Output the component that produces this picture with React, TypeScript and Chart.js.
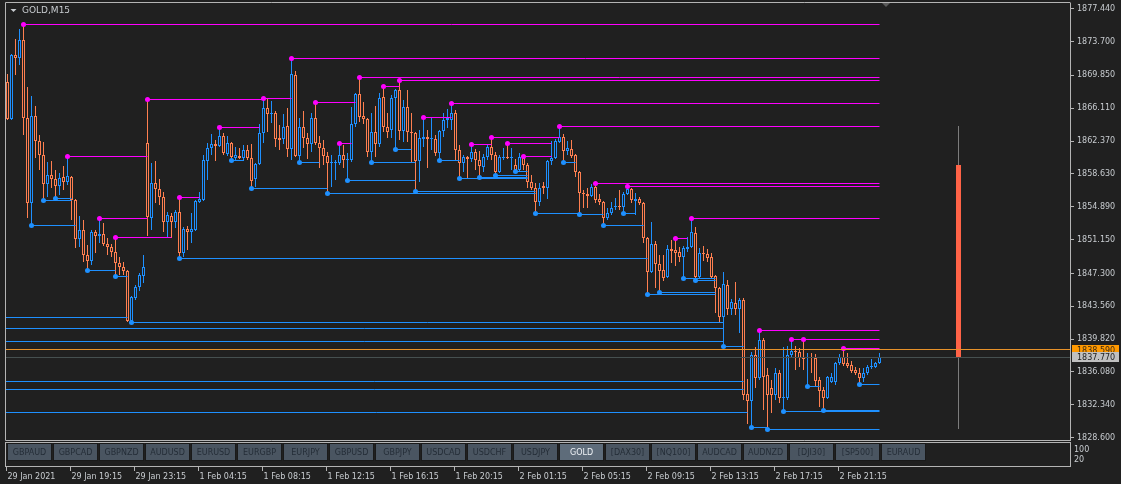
import React, { useEffect, useRef } from "react";
import { Chart, registerables } from "chart.js";

Chart.register(...registerables);

// ---------- data (GOLD, M15) ----------
const OPEN = [
  1869.05, 1864.85, 1872.12, 1871.82, 1873.83, 1864.96, 1855.29, 1865.19, 1862.34, 1860.75,
  1857.45, 1858.47, 1858.02, 1857.22, 1858.25, 1857.68, 1858.25, 1855.63, 1851.19, 1852.22,
  1849.38, 1848.70, 1851.99, 1851.54, 1851.76, 1850.63, 1850.29, 1849.72, 1848.47, 1848.01,
  1847.56, 1841.87, 1844.49, 1845.74, 1846.99, 1862.11, 1853.58, 1857.56, 1856.88, 1855.97,
  1853.13, 1853.81, 1853.13, 1854.27, 1849.61, 1852.33, 1851.99, 1852.22, 1855.40, 1855.63,
  1860.07, 1861.55, 1862.00, 1861.77, 1862.91, 1860.86, 1862.11, 1860.41, 1860.64, 1860.41,
  1861.32, 1860.41, 1858.02, 1859.73, 1863.25, 1866.10, 1865.41, 1865.53, 1862.68, 1862.57,
  1864.05, 1861.43, 1869.85, 1860.64, 1863.93, 1862.68, 1862.00, 1864.96, 1862.11, 1861.55,
  1860.64, 1859.84, 1859.84, 1859.84, 1860.75, 1860.18, 1860.18, 1864.28, 1867.69, 1865.19,
  1864.85, 1861.09, 1863.37, 1862.00, 1867.35, 1863.93, 1863.59, 1867.23, 1868.14, 1863.48,
  1866.21, 1863.37, 1863.25, 1860.07, 1862.57, 1862.80, 1862.57, 1862.57, 1860.98, 1863.48,
  1864.73, 1864.73, 1865.53, 1861.32, 1859.84, 1860.52, 1860.30, 1861.09, 1860.18, 1859.38,
  1860.52, 1861.66, 1860.75, 1858.81, 1860.41, 1860.52, 1860.41, 1859.61, 1859.04, 1860.52,
  1859.61, 1857.68, 1856.99, 1855.40, 1857.22, 1856.99, 1860.07, 1860.41, 1862.23, 1862.80,
  1861.20, 1861.43, 1860.75, 1858.81, 1856.43, 1856.31, 1856.09, 1857.11, 1855.74, 1855.40,
  1853.58, 1854.15, 1854.83, 1854.95, 1854.83, 1856.31, 1856.88, 1855.52, 1855.74, 1855.29,
  1851.31, 1847.44, 1850.63, 1848.36, 1847.67, 1846.87, 1850.06, 1849.95, 1849.72, 1849.15,
  1850.06, 1850.29, 1851.88, 1846.87, 1849.61, 1849.49, 1849.15, 1846.99, 1845.62, 1842.32,
  1845.96, 1843.23, 1843.92, 1843.23, 1844.26, 1833.57, 1832.77, 1838.00, 1835.39, 1839.71,
  1835.73, 1834.25, 1833.45, 1835.96, 1833.11, 1833.11, 1838.00, 1838.45, 1838.34, 1837.66,
  1837.66, 1837.77, 1837.66, 1835.16, 1834.02, 1833.11, 1834.93, 1834.93, 1837.09, 1837.77,
  1837.09, 1836.87, 1836.30, 1835.96, 1835.39, 1835.96, 1836.64, 1836.64, 1837.09,
];
const HIGH = [
  1869.96, 1872.24, 1873.94, 1875.08, 1875.65, 1868.48, 1867.46, 1866.33, 1863.02, 1862.23,
  1859.95, 1860.07, 1859.04, 1858.70, 1859.50, 1860.64, 1858.36, 1855.74, 1853.81, 1853.36,
  1850.51, 1852.22, 1852.22, 1853.58, 1853.02, 1851.31, 1850.63, 1851.42, 1849.15, 1848.58,
  1847.67, 1844.71, 1845.97, 1847.33, 1849.38, 1867.12, 1859.84, 1860.07, 1858.02, 1856.54,
  1854.27, 1854.15, 1854.49, 1855.97, 1852.56, 1852.67, 1854.15, 1855.63, 1856.54, 1860.75,
  1862.11, 1863.14, 1862.46, 1863.93, 1863.25, 1862.91, 1862.23, 1861.66, 1861.55, 1861.89,
  1861.89, 1862.00, 1859.84, 1864.28, 1867.23, 1867.12, 1866.89, 1865.76, 1864.16, 1865.41,
  1866.10, 1871.78, 1870.30, 1864.96, 1865.76, 1863.25, 1865.53, 1866.78, 1862.91, 1862.46,
  1861.09, 1860.75, 1860.18, 1862.11, 1861.89, 1860.98, 1866.21, 1867.80, 1869.62, 1866.78,
  1864.96, 1865.53, 1866.33, 1867.80, 1868.60, 1865.53, 1867.57, 1868.26, 1869.28, 1867.01,
  1868.14, 1865.53, 1863.37, 1863.59, 1865.07, 1863.59, 1864.96, 1863.02, 1863.59, 1865.53,
  1865.98, 1866.67, 1865.87, 1861.89, 1860.75, 1860.64, 1862.00, 1861.43, 1861.20, 1860.86,
  1861.89, 1862.80, 1861.09, 1860.75, 1861.55, 1862.11, 1861.55, 1860.30, 1860.98, 1860.64,
  1859.84, 1858.47, 1857.56, 1857.56, 1857.68, 1860.18, 1862.34, 1862.57, 1864.05, 1863.14,
  1862.34, 1862.46, 1860.86, 1858.93, 1856.77, 1856.99, 1857.45, 1857.56, 1856.31, 1855.52,
  1854.72, 1855.40, 1855.86, 1856.77, 1856.54, 1857.22, 1856.99, 1856.43, 1855.97, 1855.40,
  1851.42, 1853.13, 1850.97, 1849.38, 1849.38, 1850.51, 1851.08, 1851.31, 1850.29, 1850.40,
  1851.42, 1853.58, 1852.56, 1850.17, 1850.40, 1850.06, 1849.61, 1847.10, 1845.74, 1847.44,
  1846.53, 1844.37, 1846.31, 1844.49, 1844.49, 1835.27, 1838.34, 1838.91, 1840.85, 1839.94,
  1836.52, 1835.16, 1836.52, 1836.30, 1838.91, 1839.03, 1839.82, 1839.03, 1838.80, 1839.82,
  1838.23, 1838.23, 1838.11, 1835.50, 1834.36, 1835.61, 1835.96, 1837.21, 1838.11, 1838.80,
  1838.23, 1837.32, 1836.64, 1836.52, 1836.52, 1836.87, 1837.55, 1837.21, 1838.23,
];
const LOW = [
  1864.73, 1864.73, 1869.85, 1870.99, 1863.02, 1853.58, 1852.79, 1860.41, 1859.04, 1855.63,
  1855.97, 1856.99, 1855.86, 1856.20, 1856.77, 1857.34, 1853.36, 1850.17, 1850.29, 1848.58,
  1847.67, 1848.24, 1849.61, 1850.74, 1850.40, 1849.38, 1849.15, 1846.99, 1847.10, 1847.10,
  1841.81, 1841.70, 1844.26, 1845.28, 1846.19, 1851.54, 1852.22, 1855.29, 1855.06, 1851.99,
  1851.42, 1851.31, 1852.45, 1849.04, 1849.15, 1849.95, 1850.74, 1852.11, 1855.29, 1855.52,
  1857.91, 1860.75, 1860.07, 1861.66, 1860.75, 1860.64, 1860.18, 1860.24, 1860.30, 1860.07,
  1860.18, 1856.99, 1857.11, 1859.61, 1862.11, 1863.37, 1864.39, 1861.66, 1861.32, 1862.00,
  1860.52, 1860.18, 1860.52, 1859.95, 1861.55, 1860.30, 1861.09, 1861.89, 1859.27, 1859.61,
  1856.43, 1857.11, 1857.91, 1859.61, 1859.27, 1857.91, 1859.95, 1863.93, 1864.50, 1864.28,
  1860.52, 1859.95, 1860.52, 1861.66, 1863.37, 1862.68, 1862.68, 1861.43, 1862.46, 1862.23,
  1862.23, 1859.95, 1856.65, 1857.68, 1861.66, 1859.27, 1861.32, 1860.64, 1860.18, 1862.80,
  1863.82, 1863.59, 1860.18, 1858.13, 1858.81, 1858.19, 1859.95, 1859.04, 1858.25, 1858.81,
  1860.18, 1860.18, 1858.47, 1858.70, 1860.18, 1860.30, 1859.04, 1858.93, 1858.81, 1859.04,
  1856.99, 1856.77, 1854.15, 1854.95, 1856.31, 1855.74, 1859.61, 1860.30, 1862.11, 1859.95,
  1860.75, 1860.41, 1858.25, 1854.04, 1854.72, 1854.72, 1855.97, 1855.29, 1855.06, 1852.79,
  1853.36, 1853.93, 1854.49, 1854.49, 1854.15, 1856.20, 1855.29, 1853.93, 1855.06, 1850.74,
  1844.94, 1847.33, 1845.62, 1845.17, 1846.42, 1846.76, 1848.47, 1848.13, 1848.58, 1846.76,
  1849.72, 1850.17, 1846.53, 1846.76, 1848.70, 1848.58, 1846.82, 1842.78, 1841.76, 1839.03,
  1842.55, 1842.55, 1842.55, 1840.50, 1832.88, 1830.15, 1829.81, 1834.25, 1835.16, 1831.75,
  1829.59, 1831.40, 1832.88, 1832.54, 1831.63, 1832.88, 1837.77, 1836.30, 1836.64, 1836.30,
  1834.48, 1835.96, 1834.36, 1832.09, 1831.75, 1833.00, 1834.82, 1834.59, 1836.87, 1836.75,
  1836.52, 1835.96, 1835.73, 1834.70, 1834.93, 1835.73, 1836.41, 1836.52, 1837.04,
];
const CLOSE = [
  1864.85, 1872.12, 1871.82, 1873.83, 1864.96, 1855.29, 1865.19, 1862.34, 1860.75, 1857.45,
  1858.47, 1858.02, 1857.22, 1858.13, 1857.68, 1858.36, 1855.63, 1851.19, 1852.22, 1849.38,
  1848.70, 1851.99, 1851.54, 1851.76, 1850.63, 1850.29, 1849.72, 1848.47, 1848.01, 1847.56,
  1841.87, 1844.60, 1845.74, 1847.10, 1848.01, 1853.70, 1857.56, 1856.88, 1855.97, 1853.13,
  1853.93, 1853.13, 1854.27, 1849.61, 1852.33, 1851.99, 1852.33, 1855.52, 1855.74, 1860.18,
  1861.55, 1862.00, 1861.77, 1862.91, 1860.98, 1862.11, 1860.52, 1860.75, 1860.41, 1861.32,
  1860.41, 1857.79, 1859.73, 1863.25, 1866.10, 1865.41, 1865.53, 1862.57, 1862.46, 1863.93,
  1861.43, 1869.96, 1860.64, 1863.93, 1862.68, 1862.00, 1864.96, 1862.11, 1861.55, 1860.64,
  1859.84, 1859.95, 1859.95, 1860.75, 1860.18, 1860.30, 1864.28, 1867.69, 1865.07, 1864.85,
  1861.09, 1863.37, 1862.00, 1867.23, 1863.93, 1863.37, 1867.23, 1868.14, 1863.48, 1866.21,
  1863.37, 1863.25, 1860.07, 1862.68, 1862.80, 1862.57, 1862.68, 1860.98, 1863.48, 1864.73,
  1864.96, 1865.53, 1861.32, 1859.84, 1860.52, 1860.30, 1861.09, 1860.18, 1859.50, 1860.52,
  1861.66, 1860.75, 1858.81, 1860.52, 1860.52, 1860.41, 1860.52, 1859.04, 1860.52, 1859.61,
  1857.68, 1856.99, 1855.40, 1856.99, 1856.99, 1860.07, 1860.41, 1862.34, 1862.80, 1861.20,
  1861.55, 1860.64, 1858.81, 1856.43, 1856.31, 1856.09, 1857.11, 1855.63, 1855.40, 1853.58,
  1854.15, 1854.72, 1854.95, 1854.83, 1856.31, 1856.88, 1855.63, 1855.74, 1855.29, 1851.31,
  1847.44, 1850.63, 1848.36, 1847.56, 1846.76, 1850.06, 1849.83, 1849.61, 1849.15, 1850.17,
  1850.29, 1851.99, 1846.87, 1849.61, 1849.49, 1849.04, 1846.93, 1845.62, 1842.32, 1846.08,
  1843.23, 1844.03, 1843.23, 1844.26, 1833.45, 1832.77, 1838.00, 1835.39, 1839.71, 1835.50,
  1833.45, 1833.45, 1835.96, 1833.11, 1833.22, 1838.00, 1838.45, 1838.34, 1837.66, 1837.55,
  1837.77, 1837.66, 1835.05, 1833.91, 1833.11, 1835.50, 1835.50, 1837.09, 1837.77, 1836.98,
  1836.75, 1836.18, 1835.96, 1835.39, 1835.96, 1836.64, 1836.75, 1837.09, 1837.77,
];

const TIME_LABELS = [
  "29 Jan 2021", "29 Jan 19:15", "29 Jan 23:15", "1 Feb 04:15", "1 Feb 08:15",
  "1 Feb 12:15", "1 Feb 16:15", "1 Feb 20:15", "2 Feb 01:15", "2 Feb 05:15",
  "2 Feb 09:15", "2 Feb 13:15", "2 Feb 17:15", "2 Feb 21:15",
];
const BARS_PER_LABEL = 16;

const PRICE_TICKS = [
  1877.44, 1873.7, 1869.85, 1866.11, 1862.37, 1858.63, 1854.89,
  1851.15, 1847.3, 1843.56, 1839.82, 1836.08, 1832.34, 1828.6,
];

// resistance levels: [pivot bar, bar where the line stops, price]
const RESISTANCE = [
  [4, 218, 1875.65], [15, 35, 1860.64], [23, 35, 1853.58], [27, 41, 1851.42],
  [35, 64, 1867.12], [43, 48, 1855.97], [53, 63, 1863.93], [64, 71, 1867.23],
  [71, 218, 1871.78], [77, 87, 1866.78], [83, 86, 1862.11], [88, 218, 1869.62],
  [94, 98, 1868.6], [98, 218, 1869.28], [104, 111, 1865.07], [111, 218, 1866.67],
  [116, 121, 1862.0], [121, 138, 1862.8], [125, 136, 1862.11], [129, 136, 1860.64],
  [138, 218, 1864.05], [147, 218, 1857.56], [155, 218, 1857.22], [167, 170, 1851.31],
  [171, 218, 1853.58], [188, 218, 1840.85], [196, 199, 1839.82], [199, 218, 1839.82],
  [209, 218, 1838.8],
];
// support levels: [pivot bar, bar where the line stops, price]
const SUPPORT = [
  [6, 17, 1852.79], [9, 16, 1855.63], [12, 16, 1855.86], [20, 27, 1847.67],
  [27, 30, 1846.99], [31, 179, 1841.7], [43, 160, 1849.04], [56, 59, 1860.18],
  [61, 80, 1856.99], [73, 78, 1859.95], [80, 132, 1856.43], [85, 102, 1857.91],
  [91, 102, 1859.95], [97, 101, 1861.43], [102, 132, 1856.65], [108, 113, 1860.18],
  [113, 130, 1858.13], [118, 130, 1858.25], [122, 130, 1858.47], [127, 130, 1858.93],
  [132, 143, 1854.15], [139, 142, 1859.95], [143, 149, 1854.04], [149, 159, 1852.79],
  [154, 157, 1854.15], [160, 177, 1844.94], [163, 177, 1845.17], [169, 177, 1846.76],
  [172, 177, 1846.53], [179, 184, 1839.03], [186, 190, 1829.81], [190, 218, 1829.59],
  [194, 218, 1831.63], [200, 203, 1834.48], [204, 218, 1831.75], [213, 218, 1834.7],
];
// support levels coming from before the visible window: [bar where the line stops, price]
const OLD_SUPPORT = [
  [30, 1842.29], [179, 1841.07], [179, 1839.56], [184, 1835.01], [184, 1834.14], [185, 1831.44],
];

const ASK = 1838.59;
const BID = 1837.77;
const DAILY_OHLC = [1859.61, 1864.05, 1829.59, 1837.77];
const DAILY_BAR_AT = 237.75;

const SYMBOLS = [
  "GBPAUD", "GBPCAD", "GBPNZD", "AUDUSD", "EURUSD", "EURGBP", "EURJPY", "GBPUSD",
  "GBPJPY", "USDCAD", "USDCHF", "USDJPY", "GOLD", "[DAX30]", "[NQ100]", "AUDCAD",
  "AUDNZD", "[DJI30]", "[SP500]", "EURAUD",
];
const ACTIVE_SYMBOL = "GOLD";
const SUB_LABELS = ["100", "20"];
const TITLE = "GOLD,M15";

// ---------- styles ----------
const BG = "#202020";
const FG = "#c8ccd0";
const FRAME = "#b4b4b4";
const BULL = "#1e90ff";
const BEAR = "#ff7f50";
const RES = "#ff00ff";
const SUP = "#1e90ff";
const FONT = "'DejaVu Sans', sans-serif";
const X_MIN = -0.375;
const X_MAX = 265.625;

// pixel snapping so 1px lines and candle edges render crisp like the terminal
const snap = {
  id: "snap",
  beforeDatasetDraw(chart: any, args: any) {
    const ds = chart.data.datasets[args.index];
    const meta = args.meta;
    if (ds.type === "line") {
      const y = chart.scales.y.getPixelForValue(ds.data[0].y);
      chart.ctx.save();
      chart.ctx.translate(0, Math.floor(y) + 0.5 - y);
    } else {
      meta.data.forEach((el: any) => {
        el.y = Math.round(el.y);
        el.base = Math.round(el.base);
      });
    }
  },
  afterDatasetDraw(chart: any, args: any) {
    const ds = chart.data.datasets[args.index];
    if (ds.type === "line") chart.ctx.restore();
  },
};

const decor = {
  id: "decor",
  beforeDraw(chart: any) {
    const { ctx, width, height } = chart;
    ctx.save();
    ctx.fillStyle = BG;
    ctx.fillRect(0, 0, width, height);
    ctx.restore();
  },
  afterDraw(chart: any) {
    const { ctx } = chart;
    const a = chart.chartArea;
    const xs = chart.scales.x;
    const ys = chart.scales.y;
    ctx.save();
    ctx.lineWidth = 1;
    ctx.strokeStyle = FRAME;
    ctx.beginPath();
    ctx.moveTo(a.right + 0.5, a.top - 0.5);
    ctx.lineTo(a.left - 0.5, a.top - 0.5);
    ctx.lineTo(a.left - 0.5, a.bottom + 0.5);
    ctx.lineTo(a.right + 0.5, a.bottom + 0.5);
    ctx.stroke();

    // title
    ctx.fillStyle = FG;
    ctx.beginPath();
    ctx.moveTo(10.5, 9);
    ctx.lineTo(16.5, 9);
    ctx.lineTo(13.5, 12);
    ctx.closePath();
    ctx.fill();
    ctx.font = `9px ${FONT}`;
    ctx.textBaseline = "middle";
    ctx.textAlign = "left";
    ctx.fillText(TITLE, 22, 11);

    // chart shift marker
    ctx.fillStyle = "#5a5a5a";
    ctx.beginPath();
    ctx.moveTo(882, 3);
    ctx.lineTo(890, 3);
    ctx.lineTo(886, 7);
    ctx.closePath();
    ctx.fill();

    // price boxes
    ctx.font = `8px ${FONT}`;
    const box = (price: number, fill: string, text: string) => {
      const y = Math.round(ys.getPixelForValue(price));
      ctx.fillStyle = fill;
      ctx.fillRect(a.right + 2, y - 5, 47, 10);
      ctx.fillStyle = text;
      ctx.fillText(price.toFixed(3), a.right + 7, y + 0.5);
    };
    box(ASK, "#ff9900", "#3b2a12");
    box(BID, "#c0c0c0", "#1c1c1c");

    // sub window
    const top = a.bottom + 2;
    const bottom = a.bottom + 26;
    ctx.strokeStyle = FRAME;
    ctx.strokeRect(a.left - 0.5, top + 0.5, a.right - a.left + 1, bottom - top);
    ctx.fillStyle = FG;
    ctx.font = `8px ${FONT}`;
    ctx.fillText(SUB_LABELS[0], a.right + 4, top + 8);
    ctx.fillText(SUB_LABELS[1], a.right + 4, top + 18);

    // symbol buttons
    ctx.textAlign = "center";
    ctx.font = `8px ${FONT}`;
    SYMBOLS.forEach((s, k) => {
      const bx = 7.5 + 46 * k;
      const by = top + 1.5;
      const active = s === ACTIVE_SYMBOL;
      ctx.fillStyle = active ? "#5e6c7a" : "#4a5561";
      ctx.fillRect(bx, by, 44, 17);
      ctx.strokeStyle = "#1a1a1a";
      ctx.strokeRect(bx, by, 44, 17);
      ctx.fillStyle = active ? "#eef2f6" : "#242d37";
      ctx.fillText(s, bx + 22, by + 9);
    });

    // time axis
    ctx.textAlign = "left";
    ctx.font = `8px ${FONT}`;
    ctx.strokeStyle = FRAME;
    TIME_LABELS.forEach((lab, k) => {
      const x = Math.floor(xs.getPixelForValue(k * BARS_PER_LABEL)) + 0.5;
      ctx.beginPath();
      ctx.moveTo(x - 1, bottom + 1);
      ctx.lineTo(x - 1, bottom + 5);
      ctx.stroke();
      ctx.fillStyle = FG;
      ctx.fillText(lab, x, bottom + 11);
    });
    ctx.restore();
  },
};

function levelSet(from: number, to: number, price: number, color: string, dot: boolean) {
  return {
    type: "line",
    data: [
      { x: from, y: price },
      { x: to, y: price },
    ],
    borderColor: color,
    borderWidth: 1,
    pointRadius: [dot ? 2.5 : 0, 0],
    pointHoverRadius: 0,
    pointBackgroundColor: color,
    pointBorderWidth: 0,
    tension: 0,
    fill: false,
    order: 1,
  };
}

export default function App() {
  const ref = useRef<HTMLCanvasElement>(null);
  useEffect(() => {
    document.body.style.margin = "0";
    document.body.style.background = BG;
    const idx = OPEN.map((_, i) => i);
    const colors = idx.map((i) => (CLOSE[i] >= OPEN[i] ? BULL : BEAR));
    const datasets: any[] = [
      {
        type: "bar",
        data: idx.map((i) => ({ x: i, y: [LOW[i], HIGH[i]] })),
        backgroundColor: colors,
        barThickness: 1,
        grouped: false,
        inflateAmount: 0,
        order: 3,
      },
      {
        type: "bar",
        data: idx.map((i) => ({ x: i, y: [Math.min(OPEN[i], CLOSE[i]), Math.max(OPEN[i], CLOSE[i])] })),
        backgroundColor: BG,
        borderColor: colors,
        borderWidth: 1,
        borderSkipped: false,
        barThickness: 3,
        grouped: false,
        inflateAmount: 0,
        order: 2,
      },
      {
        type: "bar",
        data: [{ x: DAILY_BAR_AT, y: [DAILY_OHLC[2], DAILY_OHLC[1]] }],
        backgroundColor: "#7c7c7c",
        barThickness: 1,
        grouped: false,
        inflateAmount: 0,
        order: 3,
      },
      {
        type: "bar",
        data: [{ x: DAILY_BAR_AT, y: [DAILY_OHLC[3], DAILY_OHLC[0]] }],
        backgroundColor: "#ff6347",
        barThickness: 5,
        grouped: false,
        inflateAmount: 0,
        order: 2,
      },
    ];
    OLD_SUPPORT.forEach(([to, p]) => datasets.push(levelSet(X_MIN, to, p, SUP, false)));
    SUPPORT.forEach(([f, t, p]) => datasets.push(levelSet(f, t, p, SUP, true)));
    RESISTANCE.forEach(([f, t, p]) => datasets.push(levelSet(f, t, p, RES, true)));
    const ask = levelSet(X_MIN, X_MAX, ASK, "#e8922a", false);
    ask.order = 0;
    const bid = levelSet(X_MIN, X_MAX, BID, "#465050", false);
    bid.order = 0;
    datasets.push(ask, bid);

    const chart = new Chart(ref.current as HTMLCanvasElement, {
      type: "bar",
      data: { datasets },
      options: {
        responsive: false,
        animation: false,
        devicePixelRatio: 1,
        events: [],
        layout: { padding: { left: 6, top: 3, bottom: 44, right: 0 } },
        plugins: { legend: { display: false }, tooltip: { enabled: false } },
        scales: {
          x: {
            type: "linear",
            min: X_MIN,
            max: X_MAX,
            offset: false,
            display: false,
          },
          y: {
            type: "linear",
            position: "right",
            min: 1828.34,
            max: 1878.08,
            beginAtZero: false,
            afterBuildTicks: (s: any) => {
              s.ticks = PRICE_TICKS.map((v) => ({ value: v }));
            },
            afterFit: (s: any) => {
              s.width = 51;
              s.paddingTop = 0;
              s.paddingBottom = 0;
            },
            grid: { drawOnChartArea: false, drawTicks: true, tickLength: 4, color: FRAME },
            border: { display: true, color: FRAME },
            ticks: {
              autoSkip: false,
              padding: 3,
              color: FG,
              font: { family: "'DejaVu Sans'", size: 8 },
              callback: (v: any) => Number(v).toFixed(3),
            },
          },
        },
      },
      plugins: [snap, decor],
    } as any);
    return () => chart.destroy();
  }, []);
  return (
    <div style={{ width: 1121, height: 484 }}>
      <canvas ref={ref} width={1121} height={484} style={{ display: "block", width: 1121, height: 484 }} />
    </div>
  );
}
